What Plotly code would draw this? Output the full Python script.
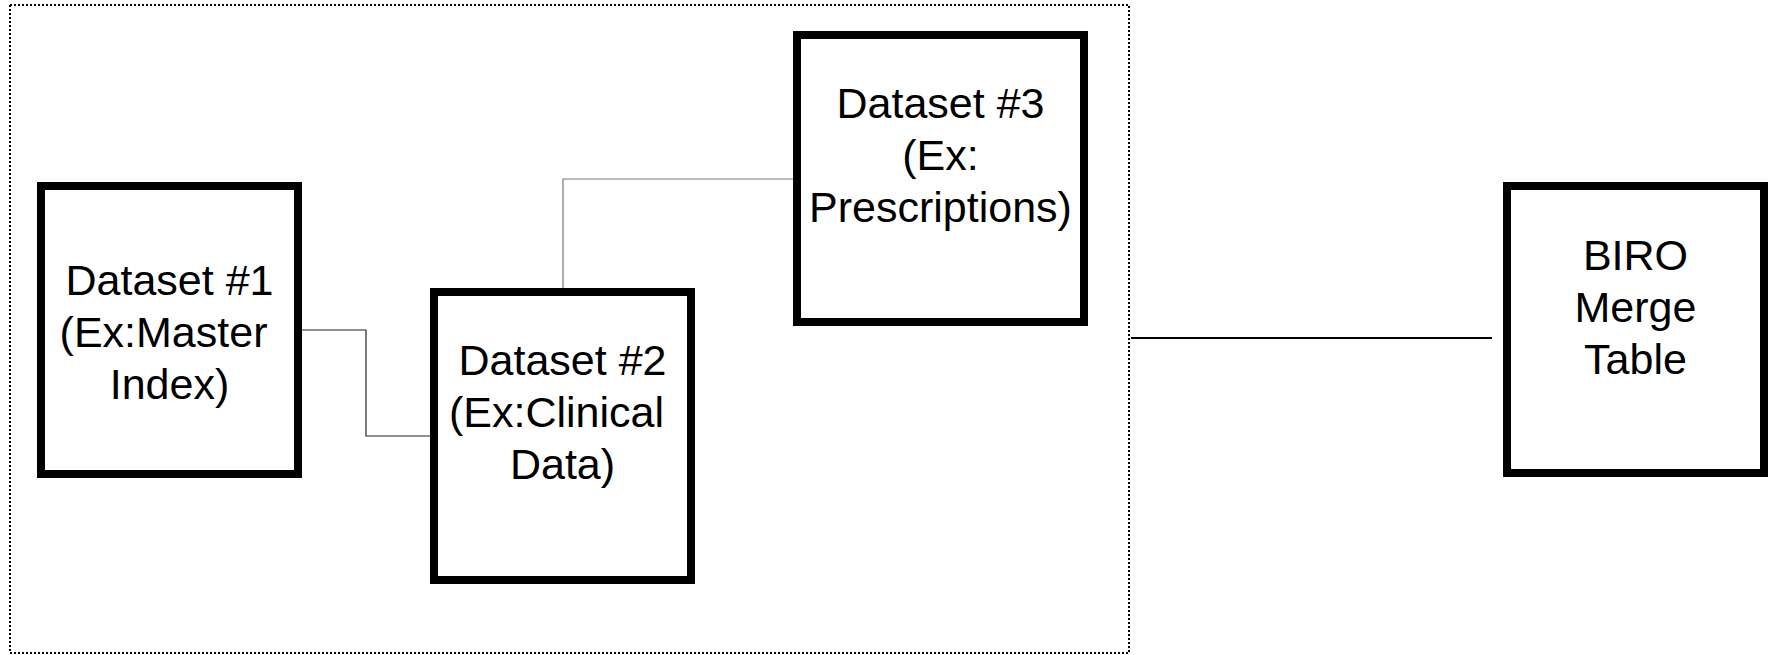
import plotly.graph_objects as go

# ---- diagram data (diagram units = pixels of the 1768x655 canvas) ----
box_names = ["Dataset #1", "Dataset #2", "Dataset #3", "BIRO Merge Table"]
box_lines = [
    ["Dataset #1", "(Ex:Master\u00a0", "Index)"],
    ["Dataset #2", "(Ex:Clinical\u00a0", "Data)"],
    ["Dataset #3", "(Ex:", "Prescriptions)"],
    ["BIRO", "Merge", "Table"],
]
box_left = [41, 434, 797, 1507]
box_right = [298, 691, 1084, 1764]
box_top = [186, 292, 35, 186]
box_bottom = [474, 580, 322, 473]
first_baseline = [299, 379, 122, 274]
line_pitch = 52

# connectors
conn1_x = [302, 366, 366, 430]
conn1_y = [330, 330, 436, 436]
conn2_x = [563, 563, 793]
conn2_y = [288, 179, 179]
merge_x = [1131, 1492]
merge_y = [338, 338]
frame_x = [10, 1129, 1129, 10, 10]
frame_y = [5, 5, 653, 653, 5]

FONT_SIZE = 43
W, H = 1768, 655

fig = go.Figure()

# dotted group frame
fig.add_trace(go.Scatter(x=frame_x, y=frame_y, mode="lines",
                         line=dict(color="black", width=2, dash="2px,2px"),
                         hoverinfo="skip", showlegend=False))
# connectors
fig.add_trace(go.Scatter(x=conn1_x, y=conn1_y, mode="lines",
                         line=dict(color="#222222", width=1.2),
                         hoverinfo="skip", showlegend=False))
fig.add_trace(go.Scatter(x=conn2_x, y=conn2_y, mode="lines",
                         line=dict(color="#777777", width=1.2),
                         hoverinfo="skip", showlegend=False))
fig.add_trace(go.Scatter(x=merge_x, y=merge_y, mode="lines",
                         line=dict(color="black", width=2),
                         hoverinfo="skip", showlegend=False))

# boxes
for x0, x1, y0, y1 in zip(box_left, box_right, box_top, box_bottom):
    fig.add_shape(type="rect", xref="x", yref="y", x0=x0, x1=x1, y0=y0, y1=y1,
                  line=dict(color="black", width=8), fillcolor="white", layer="below")

# box texts, one line each
tx, ty, tt = [], [], []
for lines, x0, x1, b0 in zip(box_lines, box_left, box_right, first_baseline):
    for i, s in enumerate(lines):
        tx.append((x0 + x1) / 2)
        ty.append(b0 + i * line_pitch - 0.35 * FONT_SIZE)
        tt.append(s)
fig.add_trace(go.Scatter(x=tx, y=ty, text=tt, mode="text", textposition="middle center",
                         textfont=dict(family="Arial, Liberation Sans, sans-serif",
                                       size=FONT_SIZE, color="black"),
                         hoverinfo="skip", showlegend=False, cliponaxis=False))

fig.update_layout(
    width=W, height=H,
    margin=dict(l=0, r=0, t=0, b=0),
    paper_bgcolor="white", plot_bgcolor="rgba(0,0,0,0)",
    xaxis=dict(range=[0, W], visible=False, fixedrange=True),
    yaxis=dict(range=[H, 0], visible=False, fixedrange=True),
)
fig.write_html("out.html",
               config={"displayModeBar": False},
               post_script="document.body.style.margin='0';document.body.style.overflow='hidden';")
